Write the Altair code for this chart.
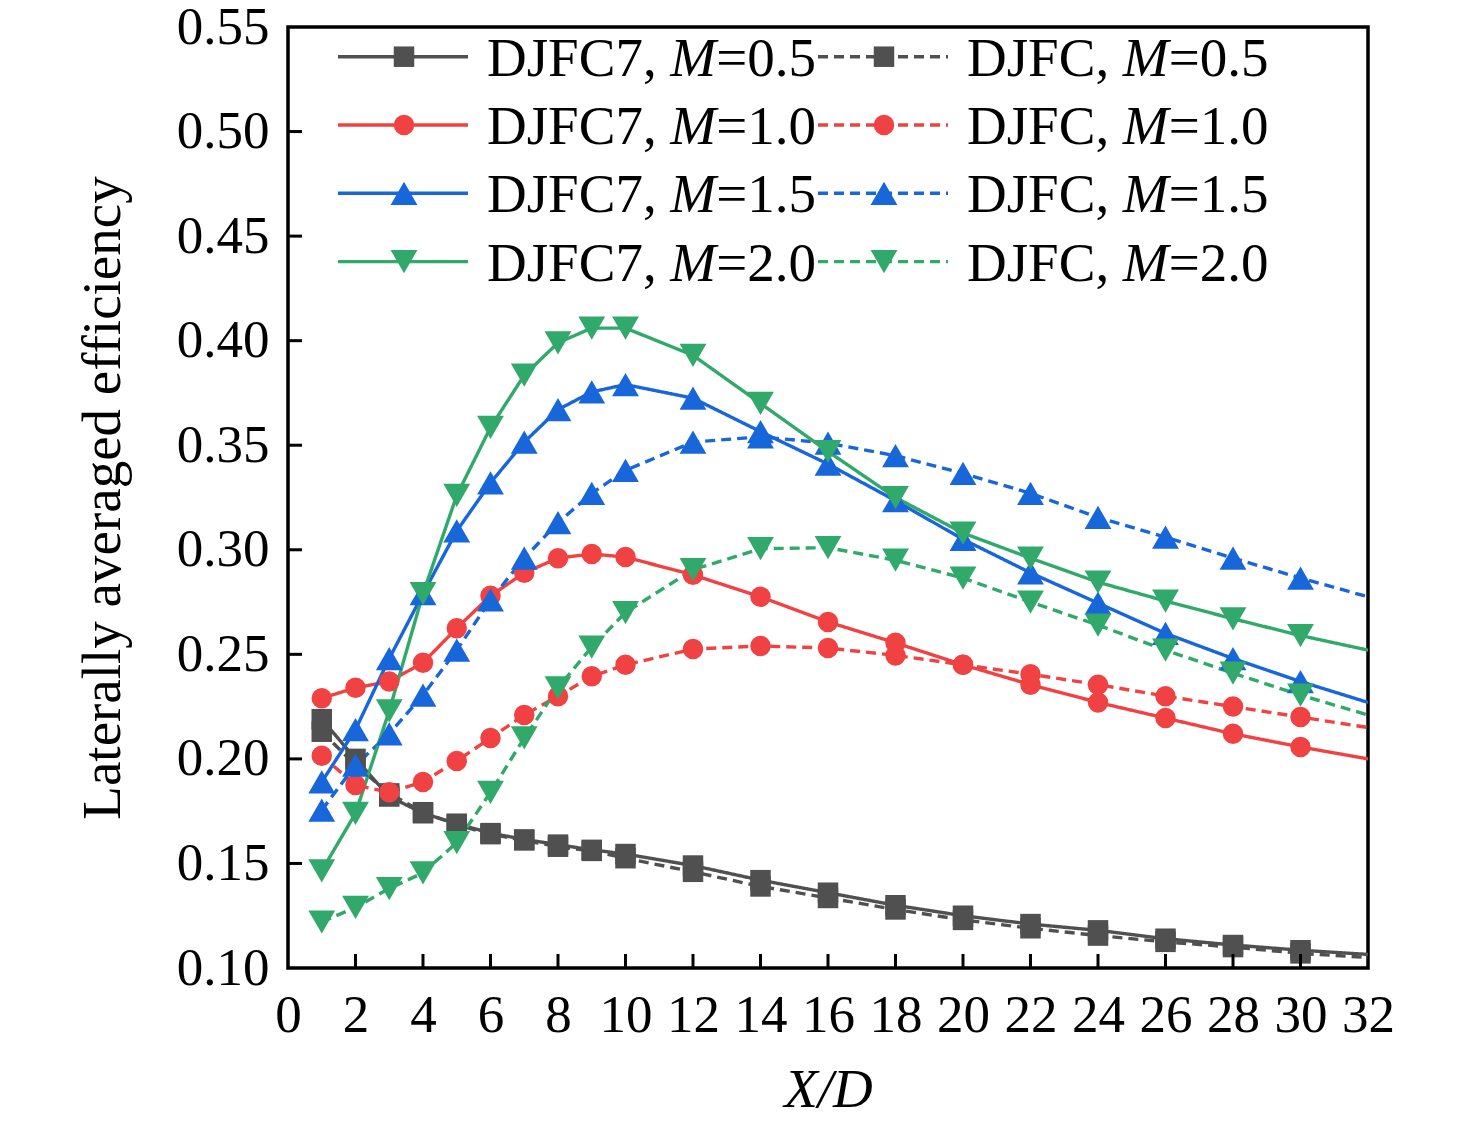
import altair as alt
import pandas as pd

# X/D stations (the last one, 32, is only the end of the line, no marker there)
x_pts = [1, 2, 3, 4, 5, 6, 7, 8, 9, 10, 12, 14, 16, 18, 20, 22, 24, 26, 28, 30, 32]

djfc7_m05 = [0.219, 0.200, 0.182, 0.174, 0.169, 0.1645, 0.1615, 0.159, 0.1565, 0.1545,
             0.149, 0.142, 0.136, 0.130, 0.125, 0.121, 0.118, 0.114, 0.111, 0.1085, 0.1065]
djfc_m05 = [0.213, 0.197, 0.1835, 0.1745, 0.1685, 0.164, 0.161, 0.158, 0.156, 0.1525,
            0.146, 0.139, 0.1335, 0.128, 0.123, 0.119, 0.1155, 0.1125, 0.110, 0.107, 0.105]
djfc7_m10 = [0.229, 0.234, 0.237, 0.246, 0.2625, 0.278, 0.289, 0.296, 0.298, 0.2965,
             0.288, 0.2775, 0.2655, 0.2555, 0.245, 0.2355, 0.227, 0.2195, 0.212, 0.2057, 0.200]
djfc_m10 = [0.2015, 0.1875, 0.184, 0.189, 0.199, 0.210, 0.221, 0.230, 0.2395, 0.245,
            0.2525, 0.254, 0.253, 0.2495, 0.245, 0.2405, 0.2355, 0.230, 0.225, 0.220, 0.215]
djfc7_m15 = [0.189, 0.214, 0.248, 0.279, 0.309, 0.332, 0.3515, 0.367, 0.3755, 0.379,
             0.3725, 0.3565, 0.341, 0.3235, 0.305, 0.289, 0.2745, 0.260, 0.248, 0.237, 0.227]
djfc_m15 = [0.1755, 0.197, 0.212, 0.2305, 0.252, 0.276, 0.296, 0.313, 0.327, 0.338,
            0.3515, 0.354, 0.351, 0.345, 0.3365, 0.327, 0.3155, 0.306, 0.296, 0.2865, 0.2775]
djfc7_m20 = [0.1465, 0.174, 0.223, 0.279, 0.326, 0.3585, 0.3835, 0.399, 0.406, 0.406,
             0.393, 0.370, 0.347, 0.325, 0.308, 0.296, 0.2845, 0.2755, 0.267, 0.259, 0.252]
djfc_m20 = [0.122, 0.129, 0.138, 0.1455, 0.160, 0.184, 0.210, 0.234, 0.2535, 0.270,
            0.2905, 0.3005, 0.301, 0.295, 0.2865, 0.275, 0.264, 0.252, 0.241, 0.2305, 0.221]

m_values = ["0.5", "1.0", "1.5", "2.0"]
cases = ["DJFC7", "DJFC"]
series = {
    ("DJFC7", "0.5"): djfc7_m05, ("DJFC", "0.5"): djfc_m05,
    ("DJFC7", "1.0"): djfc7_m10, ("DJFC", "1.0"): djfc_m10,
    ("DJFC7", "1.5"): djfc7_m15, ("DJFC", "1.5"): djfc_m15,
    ("DJFC7", "2.0"): djfc7_m20, ("DJFC", "2.0"): djfc_m20,
}

x_ticks = [0, 2, 4, 6, 8, 10, 12, 14, 16, 18, 20, 22, 24, 26, 28, 30, 32]
y_ticks = [0.10, 0.15, 0.20, 0.25, 0.30, 0.35, 0.40, 0.45, 0.50, 0.55]

rows = []
for (case, m), vals in series.items():
    for xv, yv in zip(x_pts, vals):
        rows.append({"x": xv, "eff": yv, "case": case, "M": m,
                     "key": case + " " + m, "marker": xv < 32})
df = pd.DataFrame(rows)

W, H = 1080, 941
FONT = "Liberation Serif"

colors = ["#505050", "#f04242", "#1766da", "#31a96a"]
shapes = ["square", "circle", "triangle-up", "triangle-down"]
color_sc = alt.Scale(domain=m_values, range=colors)
shape_sc = alt.Scale(domain=m_values, range=shapes)
dash_sc = alt.Scale(domain=cases, range=[[1, 0], [10, 6]])

# triangles need a bigger symbol area to look as big as the squares
is_tri = "datum.M == '1.5' || datum.M == '2.0'"
marker_size = alt.condition(is_tri, alt.value(720), alt.value(420))

x_sc = alt.Scale(domain=[0, 32], nice=False, zero=False)
y_sc = alt.Scale(domain=[0.10, 0.55], nice=False, zero=False)

x_ax = alt.Axis(values=x_ticks, format="d", title="X/D", titleFontStyle="italic",
                titleFontSize=55, titleX=W / 2, titleY=121, titleBaseline="middle",
                labelPadding=21, labelOverlap=False, labelFlush=False)
y_ax = alt.Axis(values=y_ticks, format=".2f", title="Laterally averaged efficiency",
                titleFontSize=55, titleX=-186, titleY=H / 2, titleBaseline="middle",
                labelPadding=19, labelOverlap=False, labelFlush=False)

lines = alt.Chart(df).mark_line(strokeWidth=3.4, clip=True).encode(
    x=alt.X("x:Q", scale=x_sc, axis=x_ax),
    y=alt.Y("eff:Q", scale=y_sc, axis=y_ax),
    color=alt.Color("M:N", scale=color_sc, legend=None),
    strokeDash=alt.StrokeDash("case:N", scale=dash_sc, legend=None),
    detail="key:N",
    order="x:Q",
)

points = alt.Chart(df).transform_filter("datum.marker").mark_point(
    filled=True, opacity=1
).encode(
    x=alt.X("x:Q", scale=x_sc),
    y=alt.Y("eff:Q", scale=y_sc),
    color=alt.Color("M:N", scale=color_sc, legend=None),
    shape=alt.Shape("M:N", scale=shape_sc, legend=None),
    size=marker_size,
)

# inward tick marks
xt = alt.Chart(pd.DataFrame({"x": x_ticks[1:-1]})).mark_rule(
    color="black", strokeWidth=3
).encode(x=alt.X("x:Q", scale=x_sc), y=alt.value(H), y2=alt.value(H - 14))
yt = alt.Chart(pd.DataFrame({"eff": y_ticks[1:-1]})).mark_rule(
    color="black", strokeWidth=3
).encode(y=alt.Y("eff:Q", scale=y_sc), x=alt.value(0), x2=alt.value(14))

# legend drawn by hand: two columns (DJFC7 solid, DJFC dashed), four rows
row_y = [29.7 + 68.3 * i for i in range(4)]
col_x = {"DJFC7": 50, "DJFC": 530}
leg_rows = []
for i, m in enumerate(m_values):
    for case in cases:
        x0 = col_x[case]
        pre_w = (3.334 if case == "DJFC7" else 2.834) * 55
        leg_rows.append({
            "M": m, "case": case, "ly": row_y[i],
            "lx1": x0, "lx2": x0 + 130, "mx": x0 + 66,
            "pre": case + ",", "tx": x0 + 149, "ty": row_y[i] + 2,
            "mtx": x0 + 149 + pre_w, "rest": "=" + m,
            "rtx": x0 + 149 + pre_w + 0.833 * 55,
        })
leg = pd.DataFrame(leg_rows)
base_leg = alt.Chart(leg)
leg_lines = base_leg.mark_rule(strokeWidth=3.4).encode(
    x=alt.X("lx1:Q", scale=None), x2="lx2:Q", y=alt.Y("ly:Q", scale=None),
    color=alt.Color("M:N", scale=color_sc, legend=None),
    strokeDash=alt.StrokeDash("case:N", scale=dash_sc, legend=None),
)
leg_pts = base_leg.mark_point(filled=True, opacity=1).encode(
    x=alt.X("mx:Q", scale=None), y=alt.Y("ly:Q", scale=None),
    color=alt.Color("M:N", scale=color_sc, legend=None),
    shape=alt.Shape("M:N", scale=shape_sc, legend=None),
    size=marker_size,
)
txt_kw = dict(font=FONT, fontSize=55, align="left", baseline="middle", color="black")
leg_t1 = base_leg.mark_text(**txt_kw).encode(
    x=alt.X("tx:Q", scale=None), y=alt.Y("ty:Q", scale=None), text="pre:N")
leg_t2 = base_leg.mark_text(fontStyle="italic", **txt_kw).encode(
    x=alt.X("mtx:Q", scale=None), y=alt.Y("ty:Q", scale=None), text=alt.value("M"))
leg_t3 = base_leg.mark_text(**txt_kw).encode(
    x=alt.X("rtx:Q", scale=None), y=alt.Y("ty:Q", scale=None), text="rest:N")

chart = alt.layer(
    lines, points, xt, yt, leg_lines, leg_pts, leg_t1, leg_t2, leg_t3
).properties(
    width=W, height=H,
    autosize=alt.AutoSizeParams(type="none"),
    padding={"left": 280, "top": 19, "right": 80, "bottom": 150},
    background="white",
).configure_view(
    stroke="black", strokeWidth=3.5
).configure_axis(
    domain=False, ticks=False, tickSize=0, grid=False,
    labelFont=FONT, labelFontSize=53, labelColor="black",
    titleFont=FONT, titleFontWeight="normal", titleColor="black",
)

chart.save("out.html", embed_options={"renderer": "svg", "actions": False})
